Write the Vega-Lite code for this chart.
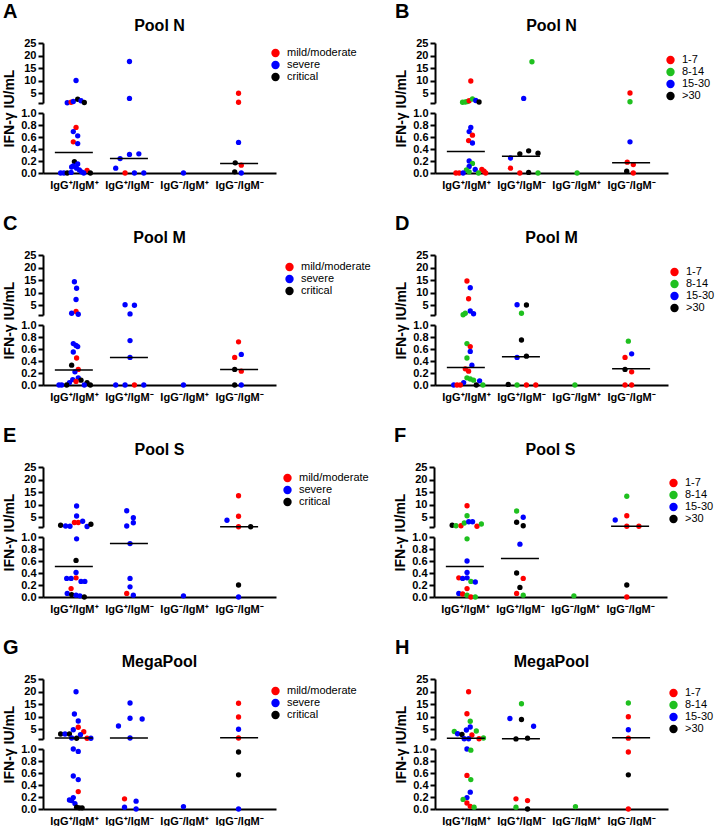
{
"$schema": "https://vega.github.io/schema/vega-lite/v6.json",
"padding": {"left": 2, "top": 2, "right": 0, "bottom": 0},
"background": "white",
"config": {
  "view": {"stroke": null},
  "font": "Liberation Sans",
  "axis": {"domainColor": "black", "domainWidth": 2, "tickColor": "black", "tickWidth": 2, "tickSize": 5, "labelFont": "Liberation Sans", "labelFontWeight": "bold", "labelFontSize": 11, "labelColor": "black", "grid": false, "titleFont": "Liberation Sans", "titleColor": "black", "labelPadding": 2, "labelOverlap": false, "labelBound": false},
  "legend": {"labelFont": "Liberation Sans", "labelFontSize": 11, "labelColor": "black", "symbolSize": 70, "symbolType": "circle", "rowPadding": 0, "symbolStrokeWidth": 0, "labelOffset": 6},
  "title": {"font": "Liberation Sans", "fontWeight": "bold", "color": "black"}
},
"datasets": {
"pts": [
{"p":"A","x":1.04,"v":10.0,"c":"severe"},{"p":"A","x":0.88,"v":1.1,"c":"severe"},{"p":"A","x":0.95,"v":1.3,"c":"mild/moderate"},{"p":"A","x":0.99,"v":1.6,"c":"severe"},{"p":"A","x":1.07,"v":2.5,"c":"critical"},{"p":"A","x":1.13,"v":1.9,"c":"severe"},{"p":"A","x":1.19,"v":1.2,"c":"critical"},{"p":"A","x":2.01,"v":17.6,"c":"severe"},{"p":"A","x":2.01,"v":2.85,"c":"severe"},{"p":"A","x":3.99,"v":4.9,"c":"mild/moderate"},{"p":"A","x":3.99,"v":1.3,"c":"mild/moderate"},
{"p":"A","x":1.04,"v":0.76,"c":"mild/moderate"},{"p":"A","x":0.99,"v":0.69,"c":"severe"},{"p":"A","x":1.07,"v":0.62,"c":"severe"},{"p":"A","x":0.99,"v":0.52,"c":"mild/moderate"},{"p":"A","x":1.07,"v":0.49,"c":"severe"},{"p":"A","x":1.01,"v":0.19,"c":"critical"},{"p":"A","x":1.07,"v":0.15,"c":"severe"},{"p":"A","x":0.99,"v":0.12,"c":"severe"},{"p":"A","x":0.96,"v":0.10,"c":"severe"},{"p":"A","x":1.05,"v":0.08,"c":"severe"},{"p":"A","x":1.10,"v":0.05,"c":"severe"},{"p":"A","x":1.24,"v":0.045,"c":"mild/moderate"},{"p":"A","x":1.14,"v":0.02,"c":"severe"},{"p":"A","x":0.76,"v":0,"c":"severe"},{"p":"A","x":0.82,"v":0,"c":"severe"},{"p":"A","x":0.88,"v":0,"c":"critical"},{"p":"A","x":0.95,"v":0.01,"c":"severe"},{"p":"A","x":1.18,"v":0,"c":"severe"},{"p":"A","x":1.30,"v":0,"c":"critical"},
{"p":"A","x":1.76,"v":0.08,"c":"severe"},{"p":"A","x":1.93,"v":0,"c":"mild/moderate"},{"p":"A","x":1.84,"v":0.24,"c":"severe"},{"p":"A","x":2.01,"v":0.31,"c":"severe"},{"p":"A","x":2.18,"v":0.32,"c":"severe"},{"p":"A","x":2.10,"v":0,"c":"severe"},{"p":"A","x":2.27,"v":0,"c":"severe"},{"p":"A","x":2.99,"v":0,"c":"severe"},{"p":"A","x":3.99,"v":0.51,"c":"severe"},{"p":"A","x":3.93,"v":0.17,"c":"critical"},{"p":"A","x":4.04,"v":0.13,"c":"mild/moderate"},{"p":"A","x":3.92,"v":0.02,"c":"critical"},{"p":"A","x":4.04,"v":0,"c":"severe"},

{"p":"B","x":1.09,"v":9.8,"c":"1-7"},{"p":"B","x":0.94,"v":1.3,"c":"8-14"},{"p":"B","x":0.99,"v":1.4,"c":"8-14"},{"p":"B","x":1.03,"v":1.6,"c":"8-14"},{"p":"B","x":1.06,"v":1.9,"c":"1-7"},{"p":"B","x":1.12,"v":2.6,"c":"8-14"},{"p":"B","x":1.18,"v":2.0,"c":"15-30"},{"p":"B","x":1.24,"v":1.4,"c":">30"},{"p":"B","x":2.20,"v":17.5,"c":"8-14"},{"p":"B","x":2.05,"v":2.85,"c":"15-30"},{"p":"B","x":3.98,"v":5.0,"c":"1-7"},{"p":"B","x":3.98,"v":1.5,"c":"8-14"},
{"p":"B","x":1.09,"v":0.76,"c":"15-30"},{"p":"B","x":1.06,"v":0.69,"c":"15-30"},{"p":"B","x":1.12,"v":0.63,"c":"1-7"},{"p":"B","x":1.05,"v":0.54,"c":"1-7"},{"p":"B","x":1.12,"v":0.50,"c":"15-30"},{"p":"B","x":1.06,"v":0.20,"c":"15-30"},{"p":"B","x":1.12,"v":0.16,"c":"8-14"},{"p":"B","x":1.06,"v":0.11,"c":"15-30"},{"p":"B","x":1.17,"v":0.06,"c":"15-30"},{"p":"B","x":1.01,"v":0.05,"c":"8-14"},{"p":"B","x":1.29,"v":0.06,"c":"1-7"},{"p":"B","x":1.33,"v":0.03,"c":"1-7"},{"p":"B","x":0.82,"v":0,"c":"1-7"},{"p":"B","x":0.88,"v":0,"c":"1-7"},{"p":"B","x":0.95,"v":0,"c":"15-30"},{"p":"B","x":1.06,"v":0.02,"c":"8-14"},{"p":"B","x":1.23,"v":0,"c":"8-14"},{"p":"B","x":1.36,"v":0,"c":"1-7"},
{"p":"B","x":1.81,"v":0.25,"c":"15-30"},{"p":"B","x":1.81,"v":0.08,"c":"1-7"},{"p":"B","x":1.98,"v":0.32,"c":">30"},{"p":"B","x":2.14,"v":0.37,"c":">30"},{"p":"B","x":2.31,"v":0.33,"c":">30"},{"p":"B","x":1.98,"v":0,"c":"1-7"},{"p":"B","x":2.14,"v":0.01,"c":">30"},{"p":"B","x":2.31,"v":0,"c":"8-14"},{"p":"B","x":3.02,"v":0,"c":"8-14"},{"p":"B","x":3.98,"v":0.52,"c":"15-30"},{"p":"B","x":3.93,"v":0.18,"c":"1-7"},{"p":"B","x":4.04,"v":0.14,"c":"1-7"},{"p":"B","x":3.92,"v":0.03,"c":">30"},{"p":"B","x":4.04,"v":0,"c":"1-7"},

{"p":"C","x":1.01,"v":14.3,"c":"severe"},{"p":"C","x":1.05,"v":11.7,"c":"severe"},{"p":"C","x":1.04,"v":7.2,"c":"severe"},{"p":"C","x":1.04,"v":2.4,"c":"mild/moderate"},{"p":"C","x":0.96,"v":1.7,"c":"severe"},{"p":"C","x":1.08,"v":1.3,"c":"severe"},{"p":"C","x":1.93,"v":5.1,"c":"severe"},{"p":"C","x":2.10,"v":4.9,"c":"severe"},{"p":"C","x":2.02,"v":1.45,"c":"severe"},
{"p":"C","x":0.99,"v":0.69,"c":"severe"},{"p":"C","x":1.04,"v":0.66,"c":"severe"},{"p":"C","x":1.07,"v":0.64,"c":"severe"},{"p":"C","x":0.99,"v":0.55,"c":"severe"},{"p":"C","x":1.05,"v":0.45,"c":"mild/moderate"},{"p":"C","x":0.96,"v":0.33,"c":"critical"},{"p":"C","x":1.08,"v":0.26,"c":"mild/moderate"},{"p":"C","x":1.02,"v":0.22,"c":"severe"},{"p":"C","x":1.08,"v":0.12,"c":"severe"},{"p":"C","x":0.98,"v":0.09,"c":"severe"},{"p":"C","x":1.13,"v":0.08,"c":"critical"},{"p":"C","x":1.04,"v":0.06,"c":"mild/moderate"},{"p":"C","x":1.24,"v":0.04,"c":"critical"},{"p":"C","x":0.92,"v":0.04,"c":"severe"},{"p":"C","x":0.73,"v":0,"c":"severe"},{"p":"C","x":0.78,"v":0,"c":"severe"},{"p":"C","x":0.87,"v":0,"c":"critical"},{"p":"C","x":1.19,"v":0,"c":"severe"},{"p":"C","x":1.30,"v":0,"c":"critical"},
{"p":"C","x":2.02,"v":0.74,"c":"severe"},{"p":"C","x":2.02,"v":0.46,"c":"severe"},{"p":"C","x":1.76,"v":0,"c":"severe"},{"p":"C","x":1.93,"v":0,"c":"severe"},{"p":"C","x":2.10,"v":0,"c":"mild/moderate"},{"p":"C","x":2.27,"v":0,"c":"severe"},{"p":"C","x":2.99,"v":0,"c":"severe"},{"p":"C","x":3.99,"v":0.72,"c":"mild/moderate"},{"p":"C","x":3.92,"v":0.46,"c":"mild/moderate"},{"p":"C","x":4.04,"v":0.51,"c":"severe"},{"p":"C","x":3.92,"v":0.26,"c":"critical"},{"p":"C","x":4.04,"v":0.23,"c":"mild/moderate"},{"p":"C","x":3.92,"v":0,"c":"critical"},{"p":"C","x":4.04,"v":0,"c":"severe"},

{"p":"D","x":1.02,"v":14.6,"c":"1-7"},{"p":"D","x":1.08,"v":11.9,"c":"15-30"},{"p":"D","x":1.05,"v":7.5,"c":"1-7"},{"p":"D","x":0.95,"v":1.1,"c":"8-14"},{"p":"D","x":0.99,"v":1.7,"c":"8-14"},{"p":"D","x":1.08,"v":2.6,"c":"15-30"},{"p":"D","x":1.14,"v":1.5,"c":"15-30"},{"p":"D","x":1.93,"v":5.1,"c":"15-30"},{"p":"D","x":2.10,"v":5.0,"c":">30"},{"p":"D","x":2.01,"v":1.7,"c":"8-14"},
{"p":"D","x":1.02,"v":0.69,"c":"8-14"},{"p":"D","x":1.08,"v":0.64,"c":"1-7"},{"p":"D","x":1.08,"v":0.56,"c":"15-30"},{"p":"D","x":1.02,"v":0.45,"c":"8-14"},{"p":"D","x":1.11,"v":0.33,"c":"15-30"},{"p":"D","x":0.99,"v":0.27,"c":"1-7"},{"p":"D","x":1.05,"v":0.23,"c":"1-7"},{"p":"D","x":1.02,"v":0.12,"c":"8-14"},{"p":"D","x":1.08,"v":0.10,"c":"8-14"},{"p":"D","x":1.14,"v":0.08,"c":"8-14"},{"p":"D","x":1.25,"v":0.07,"c":"15-30"},{"p":"D","x":0.96,"v":0.04,"c":"15-30"},{"p":"D","x":0.78,"v":0,"c":"15-30"},{"p":"D","x":0.84,"v":0,"c":"1-7"},{"p":"D","x":0.90,"v":0,"c":"1-7"},{"p":"D","x":1.19,"v":0,"c":">30"},{"p":"D","x":1.31,"v":0,"c":"8-14"},
{"p":"D","x":2.01,"v":0.75,"c":">30"},{"p":"D","x":1.93,"v":0.46,"c":"15-30"},{"p":"D","x":2.10,"v":0.48,"c":">30"},{"p":"D","x":1.77,"v":0.01,"c":">30"},{"p":"D","x":1.93,"v":0,"c":"8-14"},{"p":"D","x":2.10,"v":0,"c":"1-7"},{"p":"D","x":2.27,"v":0,"c":"1-7"},{"p":"D","x":2.98,"v":0,"c":"8-14"},{"p":"D","x":3.95,"v":0.73,"c":"8-14"},{"p":"D","x":3.89,"v":0.46,"c":"1-7"},{"p":"D","x":4.01,"v":0.52,"c":"15-30"},{"p":"D","x":3.89,"v":0.26,"c":">30"},{"p":"D","x":4.01,"v":0.22,"c":"1-7"},{"p":"D","x":3.89,"v":0,"c":"1-7"},{"p":"D","x":4.01,"v":0,"c":"1-7"},

{"p":"E","x":1.05,"v":9.4,"c":"severe"},{"p":"E","x":1.05,"v":5.4,"c":"severe"},{"p":"E","x":1.01,"v":2.8,"c":"mild/moderate"},{"p":"E","x":1.08,"v":2.8,"c":"mild/moderate"},{"p":"E","x":1.16,"v":3.3,"c":"severe"},{"p":"E","x":0.76,"v":1.7,"c":"critical"},{"p":"E","x":0.85,"v":1.4,"c":"severe"},{"p":"E","x":0.93,"v":1.3,"c":"severe"},{"p":"E","x":1.24,"v":1.2,"c":"severe"},{"p":"E","x":1.31,"v":2.1,"c":"critical"},{"p":"E","x":1.96,"v":7.5,"c":"severe"},{"p":"E","x":2.08,"v":4.7,"c":"severe"},{"p":"E","x":2.08,"v":2.7,"c":"severe"},{"p":"E","x":1.96,"v":1.4,"c":"severe"},{"p":"E","x":3.99,"v":13.5,"c":"mild/moderate"},{"p":"E","x":3.99,"v":5.3,"c":"mild/moderate"},{"p":"E","x":3.78,"v":3.7,"c":"severe"},{"p":"E","x":3.99,"v":1.1,"c":"mild/moderate"},{"p":"E","x":4.21,"v":1.1,"c":"critical"},
{"p":"E","x":1.05,"v":0.97,"c":"severe"},{"p":"E","x":1.04,"v":0.61,"c":"critical"},{"p":"E","x":1.04,"v":0.41,"c":"severe"},{"p":"E","x":0.87,"v":0.31,"c":"severe"},{"p":"E","x":1.04,"v":0.32,"c":"mild/moderate"},{"p":"E","x":0.95,"v":0.31,"c":"severe"},{"p":"E","x":1.13,"v":0.26,"c":"severe"},{"p":"E","x":1.20,"v":0.26,"c":"severe"},{"p":"E","x":0.95,"v":0.14,"c":"mild/moderate"},{"p":"E","x":0.88,"v":0.06,"c":"severe"},{"p":"E","x":0.96,"v":0.04,"c":"critical"},{"p":"E","x":1.04,"v":0.03,"c":"severe"},{"p":"E","x":1.11,"v":0.02,"c":"severe"},{"p":"E","x":1.19,"v":0,"c":"critical"},
{"p":"E","x":2.02,"v":0.89,"c":"severe"},{"p":"E","x":2.02,"v":0.31,"c":"severe"},{"p":"E","x":2.02,"v":0.17,"c":"severe"},{"p":"E","x":1.96,"v":0.06,"c":"mild/moderate"},{"p":"E","x":2.08,"v":0.03,"c":"severe"},{"p":"E","x":2.99,"v":0.02,"c":"severe"},{"p":"E","x":3.99,"v":0.2,"c":"critical"},{"p":"E","x":3.99,"v":0,"c":"severe"},

{"p":"F","x":1.04,"v":9.5,"c":"1-7"},{"p":"F","x":1.04,"v":5.5,"c":"8-14"},{"p":"F","x":0.77,"v":1.7,"c":">30"},{"p":"F","x":0.84,"v":1.5,"c":"8-14"},{"p":"F","x":0.93,"v":1.5,"c":"1-7"},{"p":"F","x":0.99,"v":2.6,"c":"8-14"},{"p":"F","x":1.07,"v":3.1,"c":"15-30"},{"p":"F","x":1.14,"v":3.1,"c":"15-30"},{"p":"F","x":1.22,"v":1.3,"c":"1-7"},{"p":"F","x":1.30,"v":2.2,"c":"8-14"},{"p":"F","x":1.94,"v":7.4,"c":"8-14"},{"p":"F","x":2.06,"v":4.9,"c":"15-30"},{"p":"F","x":1.94,"v":2.9,"c":">30"},{"p":"F","x":2.06,"v":1.5,"c":">30"},{"p":"F","x":3.94,"v":13.3,"c":"8-14"},{"p":"F","x":3.94,"v":5.5,"c":"1-7"},{"p":"F","x":3.73,"v":3.8,"c":"15-30"},{"p":"F","x":3.94,"v":1.3,"c":"1-7"},{"p":"F","x":4.16,"v":1.3,"c":"1-7"},
{"p":"F","x":1.04,"v":0.97,"c":"8-14"},{"p":"F","x":1.04,"v":0.6,"c":"15-30"},{"p":"F","x":1.04,"v":0.41,"c":"15-30"},{"p":"F","x":0.89,"v":0.32,"c":"1-7"},{"p":"F","x":0.96,"v":0.31,"c":"15-30"},{"p":"F","x":1.04,"v":0.32,"c":"15-30"},{"p":"F","x":1.11,"v":0.26,"c":"8-14"},{"p":"F","x":1.19,"v":0.25,"c":"15-30"},{"p":"F","x":1.04,"v":0.14,"c":"1-7"},{"p":"F","x":0.89,"v":0.06,"c":"15-30"},{"p":"F","x":0.96,"v":0.05,"c":"1-7"},{"p":"F","x":1.04,"v":0.03,"c":"8-14"},{"p":"F","x":1.11,"v":0,"c":"1-7"},{"p":"F","x":1.19,"v":0,"c":"8-14"},
{"p":"F","x":2.00,"v":0.88,"c":"15-30"},{"p":"F","x":1.94,"v":0.40,"c":">30"},{"p":"F","x":2.06,"v":0.31,"c":"1-7"},{"p":"F","x":2.00,"v":0.16,"c":">30"},{"p":"F","x":1.94,"v":0.06,"c":"1-7"},{"p":"F","x":2.06,"v":0.03,"c":"8-14"},{"p":"F","x":2.98,"v":0.02,"c":"8-14"},{"p":"F","x":3.94,"v":0.2,"c":">30"},{"p":"F","x":3.94,"v":0,"c":"1-7"},

{"p":"G","x":1.04,"v":19.9,"c":"severe"},{"p":"G","x":1.01,"v":11.0,"c":"severe"},{"p":"G","x":1.08,"v":8.2,"c":"severe"},{"p":"G","x":1.08,"v":5.7,"c":"mild/moderate"},{"p":"G","x":1.18,"v":3.9,"c":"mild/moderate"},{"p":"G","x":0.99,"v":4.7,"c":"severe"},{"p":"G","x":1.12,"v":2.7,"c":"severe"},{"p":"G","x":0.76,"v":3.0,"c":"critical"},{"p":"G","x":0.84,"v":3.0,"c":"severe"},{"p":"G","x":0.92,"v":3.0,"c":"critical"},{"p":"G","x":0.96,"v":1.4,"c":"severe"},{"p":"G","x":1.05,"v":1.3,"c":"critical"},{"p":"G","x":1.24,"v":1.3,"c":"mild/moderate"},{"p":"G","x":1.31,"v":1.3,"c":"severe"},{"p":"G","x":1.81,"v":6.2,"c":"severe"},{"p":"G","x":2.02,"v":9.3,"c":"severe"},{"p":"G","x":2.24,"v":9.0,"c":"severe"},{"p":"G","x":2.02,"v":15.4,"c":"severe"},{"p":"G","x":2.02,"v":1.4,"c":"severe"},{"p":"G","x":3.99,"v":15.3,"c":"mild/moderate"},{"p":"G","x":3.99,"v":9.8,"c":"mild/moderate"},{"p":"G","x":3.99,"v":4.9,"c":"severe"},{"p":"G","x":3.99,"v":1.4,"c":"mild/moderate"},
{"p":"G","x":0.99,"v":1.0,"c":"severe"},{"p":"G","x":1.08,"v":0.96,"c":"severe"},{"p":"G","x":0.99,"v":0.55,"c":"severe"},{"p":"G","x":1.08,"v":0.49,"c":"severe"},{"p":"G","x":1.08,"v":0.29,"c":"mild/moderate"},{"p":"G","x":0.99,"v":0.19,"c":"severe"},{"p":"G","x":0.92,"v":0.15,"c":"severe"},{"p":"G","x":0.96,"v":0.14,"c":"severe"},{"p":"G","x":1.02,"v":0.09,"c":"severe"},{"p":"G","x":1.05,"v":0.03,"c":"critical"},{"p":"G","x":1.10,"v":0.02,"c":"critical"},{"p":"G","x":1.15,"v":0.02,"c":"critical"},
{"p":"G","x":1.92,"v":0.17,"c":"mild/moderate"},{"p":"G","x":2.13,"v":0.13,"c":"severe"},{"p":"G","x":1.92,"v":0.03,"c":"severe"},{"p":"G","x":2.13,"v":0,"c":"severe"},{"p":"G","x":2.99,"v":0.04,"c":"severe"},{"p":"G","x":3.99,"v":0.95,"c":"critical"},{"p":"G","x":3.99,"v":0.57,"c":"critical"},{"p":"G","x":3.99,"v":0,"c":"severe"},

{"p":"H","x":1.05,"v":19.9,"c":"1-7"},{"p":"H","x":1.02,"v":11.1,"c":"1-7"},{"p":"H","x":1.08,"v":8.1,"c":"8-14"},{"p":"H","x":1.08,"v":5.8,"c":"15-30"},{"p":"H","x":1.01,"v":4.6,"c":"15-30"},{"p":"H","x":1.19,"v":4.2,"c":"8-14"},{"p":"H","x":0.79,"v":4.0,"c":"8-14"},{"p":"H","x":0.85,"v":3.1,"c":"15-30"},{"p":"H","x":0.93,"v":2.8,"c":">30"},{"p":"H","x":1.11,"v":2.6,"c":"1-7"},{"p":"H","x":1.32,"v":1.4,"c":"8-14"},{"p":"H","x":1.24,"v":1.1,"c":"1-7"},{"p":"H","x":0.97,"v":1.1,"c":"15-30"},{"p":"H","x":1.05,"v":1.1,"c":"15-30"},{"p":"H","x":2.01,"v":15.1,"c":"8-14"},{"p":"H","x":1.80,"v":9.2,"c":"15-30"},{"p":"H","x":2.01,"v":8.8,"c":">30"},{"p":"H","x":2.23,"v":6.1,"c":"15-30"},{"p":"H","x":1.91,"v":1.05,"c":">30"},{"p":"H","x":2.12,"v":1.35,"c":">30"},{"p":"H","x":3.95,"v":15.4,"c":"8-14"},{"p":"H","x":3.95,"v":9.9,"c":"1-7"},{"p":"H","x":3.95,"v":4.7,"c":"15-30"},{"p":"H","x":3.95,"v":1.35,"c":"1-7"},
{"p":"H","x":1.02,"v":1.0,"c":"15-30"},{"p":"H","x":1.09,"v":0.98,"c":"8-14"},{"p":"H","x":1.02,"v":0.56,"c":"1-7"},{"p":"H","x":1.09,"v":0.49,"c":"8-14"},{"p":"H","x":1.08,"v":0.28,"c":"15-30"},{"p":"H","x":1.02,"v":0.19,"c":"15-30"},{"p":"H","x":0.95,"v":0.16,"c":"8-14"},{"p":"H","x":1.02,"v":0.10,"c":"1-7"},{"p":"H","x":1.08,"v":0.045,"c":"1-7"},{"p":"H","x":1.15,"v":0.03,"c":"8-14"},
{"p":"H","x":1.91,"v":0.17,"c":"1-7"},{"p":"H","x":2.12,"v":0.14,"c":"1-7"},{"p":"H","x":1.91,"v":0.03,"c":"8-14"},{"p":"H","x":2.12,"v":0,"c":">30"},{"p":"H","x":2.99,"v":0.04,"c":"8-14"},{"p":"H","x":3.95,"v":0.95,"c":"1-7"},{"p":"H","x":3.95,"v":0.57,"c":">30"},{"p":"H","x":3.95,"v":0,"c":"1-7"}
],
"med": [
{"p":"A","g":1,"m":0.34},{"p":"A","g":2,"m":0.24},{"p":"A","g":4,"m":0.16},
{"p":"B","g":1,"m":0.36},{"p":"B","g":2,"m":0.28},{"p":"B","g":4,"m":0.17},
{"p":"C","g":1,"m":0.25},{"p":"C","g":2,"m":0.46},{"p":"C","g":4,"m":0.26},
{"p":"D","g":1,"m":0.29},{"p":"D","g":2,"m":0.47},{"p":"D","g":4,"m":0.27},
{"p":"E","g":1,"m":0.51},{"p":"E","g":2,"m":0.89},{"p":"E","g":4,"m":1.1},
{"p":"F","g":1,"m":0.51},{"p":"F","g":2,"m":0.64},{"p":"F","g":4,"m":1.3},
{"p":"G","g":1,"m":1.4},{"p":"G","g":2,"m":1.4},{"p":"G","g":4,"m":1.5},
{"p":"H","g":1,"m":1.35},{"p":"H","g":2,"m":1.1},{"p":"H","g":4,"m":1.5}
]
},
"vconcat": [
{"hconcat": [
 {"title": {"text": "A", "anchor": "start", "frame": "group", "fontSize": 20, "dx": -40, "offset": -4}, "spacing": 10, "bounds": "flush", "vconcat": [
  {"width": 233, "height": 60, "title": {"text": "Pool N", "fontSize": 16, "frame": "group", "anchor": "middle", "offset": 3},
   "layer": [
    {"data": {"name": "pts"}, "transform": [{"filter": "datum.p=='A' && datum.v>1"}], "mark": {"type": "circle", "size": 28, "opacity": 1},
     "encoding": {"x": {"field": "x", "type": "quantitative", "scale": {"domain": [0.44, 4.67], "nice": false, "zero": false}, "axis": null},
      "y": {"field": "v", "type": "quantitative", "scale": {"domain": [1, 25], "nice": false, "zero": false}, "axis": {"values": [1,5,10,15,20,25], "tickCount": 12, "labelExpr": "datum.value==1?'':datum.label", "title": null, "labelOverlap": false}},
      "color": {"field": "c", "type": "nominal", "scale": {"domain": ["mild/moderate","severe","critical"], "range": ["#ff0000","#0000ff","#000000"]}, "legend": {"title": null, "orient": "none", "legendX": 227, "legendY": 4.5}}}},
    {"data": {"name": "med"}, "transform": [{"filter": "datum.p=='A' && datum.m>1"}], "mark": {"type": "tick", "orient": "horizontal", "size": 38, "thickness": 1.5, "color": "black", "opacity": 1},
     "encoding": {"x": {"field": "g", "type": "quantitative"}, "y": {"field": "m", "type": "quantitative"}}}
   ]},
  {"width": 233, "height": 60,
   "layer": [
    {"data": {"name": "pts"}, "transform": [{"filter": "datum.p=='A' && datum.v<=1"}], "mark": {"type": "circle", "size": 28, "opacity": 1},
     "encoding": {"x": {"field": "x", "type": "quantitative", "scale": {"domain": [0.44, 4.67], "nice": false, "zero": false}, "axis": {"values": [1,2,3,4], "tickCount": 12, "labelExpr": "['','IgG⁺/IgM⁺','IgG⁺/IgM⁻','IgG⁻/IgM⁺','IgG⁻/IgM⁻'][datum.value]", "title": null, "ticks": false, "labelPadding": 6, "labelFlush": false, "labelOverlap": false}},
      "y": {"field": "v", "type": "quantitative", "scale": {"domain": [0, 1], "nice": false}, "axis": {"values": [0,0.2,0.4,0.6,0.8,1], "tickCount": 12, "format": ".1f", "title": "IFN-γ IU/mL", "titleFontSize": 14, "titleFontWeight": "bold", "titleY": -5, "titlePadding": 4, "labelOverlap": false}},
      "color": {"field": "c", "type": "nominal", "scale": {"domain": ["mild/moderate","severe","critical"], "range": ["#ff0000","#0000ff","#000000"]}, "legend": {"title": null, "orient": "none", "legendX": 227, "legendY": 4.5}}}},
    {"data": {"name": "med"}, "transform": [{"filter": "datum.p=='A' && datum.m<=1"}], "mark": {"type": "tick", "orient": "horizontal", "size": 38, "thickness": 1.5, "color": "black", "opacity": 1},
     "encoding": {"x": {"field": "g", "type": "quantitative"}, "y": {"field": "m", "type": "quantitative"}}}
   ]}
 ]},
 {"title": {"text": "B", "anchor": "start", "frame": "group", "fontSize": 20, "dx": -40, "offset": -4}, "spacing": 10, "bounds": "flush", "vconcat": [
  {"width": 233, "height": 60, "title": {"text": "Pool N", "fontSize": 16, "frame": "group", "anchor": "middle", "offset": 3},
   "layer": [
    {"data": {"name": "pts"}, "transform": [{"filter": "datum.p=='B' && datum.v>1"}], "mark": {"type": "circle", "size": 28, "opacity": 1},
     "encoding": {"x": {"field": "x", "type": "quantitative", "scale": {"domain": [0.44, 4.67], "nice": false, "zero": false}, "axis": null},
      "y": {"field": "v", "type": "quantitative", "scale": {"domain": [1, 25], "nice": false, "zero": false}, "axis": {"values": [1,5,10,15,20,25], "tickCount": 12, "labelExpr": "datum.value==1?'':datum.label", "title": null, "labelOverlap": false}},
      "color": {"field": "c", "type": "nominal", "scale": {"domain": ["1-7","8-14","15-30",">30"], "range": ["#ff0000","#1fc01f","#0000ff","#000000"]}, "legend": {"title": null, "orient": "none", "legendX": 230, "legendY": 11.5}}}},
    {"data": {"name": "med"}, "transform": [{"filter": "datum.p=='B' && datum.m>1"}], "mark": {"type": "tick", "orient": "horizontal", "size": 38, "thickness": 1.5, "color": "black", "opacity": 1},
     "encoding": {"x": {"field": "g", "type": "quantitative"}, "y": {"field": "m", "type": "quantitative"}}}
   ]},
  {"width": 233, "height": 60,
   "layer": [
    {"data": {"name": "pts"}, "transform": [{"filter": "datum.p=='B' && datum.v<=1"}], "mark": {"type": "circle", "size": 28, "opacity": 1},
     "encoding": {"x": {"field": "x", "type": "quantitative", "scale": {"domain": [0.44, 4.67], "nice": false, "zero": false}, "axis": {"values": [1,2,3,4], "tickCount": 12, "labelExpr": "['','IgG⁺/IgM⁺','IgG⁺/IgM⁻','IgG⁻/IgM⁺','IgG⁻/IgM⁻'][datum.value]", "title": null, "ticks": false, "labelPadding": 6, "labelFlush": false, "labelOverlap": false}},
      "y": {"field": "v", "type": "quantitative", "scale": {"domain": [0, 1], "nice": false}, "axis": {"values": [0,0.2,0.4,0.6,0.8,1], "tickCount": 12, "format": ".1f", "title": "IFN-γ IU/mL", "titleFontSize": 14, "titleFontWeight": "bold", "titleY": -5, "titlePadding": 4, "labelOverlap": false}},
      "color": {"field": "c", "type": "nominal", "scale": {"domain": ["1-7","8-14","15-30",">30"], "range": ["#ff0000","#1fc01f","#0000ff","#000000"]}, "legend": {"title": null, "orient": "none", "legendX": 230, "legendY": 11.5}}}},
    {"data": {"name": "med"}, "transform": [{"filter": "datum.p=='B' && datum.m<=1"}], "mark": {"type": "tick", "orient": "horizontal", "size": 38, "thickness": 1.5, "color": "black", "opacity": 1},
     "encoding": {"x": {"field": "g", "type": "quantitative"}, "y": {"field": "m", "type": "quantitative"}}}
   ]}
 ]}
], "spacing": 37, "resolve": {"scale": {"color": "independent"}, "legend": {"color": "independent"}}},
{"hconcat": [
 {"title": {"text": "C", "anchor": "start", "frame": "group", "fontSize": 20, "dx": -40, "offset": -4}, "spacing": 10, "bounds": "flush", "vconcat": [
  {"width": 233, "height": 60, "title": {"text": "Pool M", "fontSize": 16, "frame": "group", "anchor": "middle", "offset": 3},
   "layer": [
    {"data": {"name": "pts"}, "transform": [{"filter": "datum.p=='C' && datum.v>1"}], "mark": {"type": "circle", "size": 28, "opacity": 1},
     "encoding": {"x": {"field": "x", "type": "quantitative", "scale": {"domain": [0.44, 4.67], "nice": false, "zero": false}, "axis": null},
      "y": {"field": "v", "type": "quantitative", "scale": {"domain": [1, 25], "nice": false, "zero": false}, "axis": {"values": [1,5,10,15,20,25], "tickCount": 12, "labelExpr": "datum.value==1?'':datum.label", "title": null, "labelOverlap": false}},
      "color": {"field": "c", "type": "nominal", "scale": {"domain": ["mild/moderate","severe","critical"], "range": ["#ff0000","#0000ff","#000000"]}, "legend": {"title": null, "orient": "none", "legendX": 241, "legendY": 6.5}}}},
    {"data": {"name": "med"}, "transform": [{"filter": "datum.p=='C' && datum.m>1"}], "mark": {"type": "tick", "orient": "horizontal", "size": 38, "thickness": 1.5, "color": "black", "opacity": 1},
     "encoding": {"x": {"field": "g", "type": "quantitative"}, "y": {"field": "m", "type": "quantitative"}}}
   ]},
  {"width": 233, "height": 60,
   "layer": [
    {"data": {"name": "pts"}, "transform": [{"filter": "datum.p=='C' && datum.v<=1"}], "mark": {"type": "circle", "size": 28, "opacity": 1},
     "encoding": {"x": {"field": "x", "type": "quantitative", "scale": {"domain": [0.44, 4.67], "nice": false, "zero": false}, "axis": {"values": [1,2,3,4], "tickCount": 12, "labelExpr": "['','IgG⁺/IgM⁺','IgG⁺/IgM⁻','IgG⁻/IgM⁺','IgG⁻/IgM⁻'][datum.value]", "title": null, "ticks": false, "labelPadding": 6, "labelFlush": false, "labelOverlap": false}},
      "y": {"field": "v", "type": "quantitative", "scale": {"domain": [0, 1], "nice": false}, "axis": {"values": [0,0.2,0.4,0.6,0.8,1], "tickCount": 12, "format": ".1f", "title": "IFN-γ IU/mL", "titleFontSize": 14, "titleFontWeight": "bold", "titleY": -5, "titlePadding": 4, "labelOverlap": false}},
      "color": {"field": "c", "type": "nominal", "scale": {"domain": ["mild/moderate","severe","critical"], "range": ["#ff0000","#0000ff","#000000"]}, "legend": {"title": null, "orient": "none", "legendX": 241, "legendY": 6.5}}}},
    {"data": {"name": "med"}, "transform": [{"filter": "datum.p=='C' && datum.m<=1"}], "mark": {"type": "tick", "orient": "horizontal", "size": 38, "thickness": 1.5, "color": "black", "opacity": 1},
     "encoding": {"x": {"field": "g", "type": "quantitative"}, "y": {"field": "m", "type": "quantitative"}}}
   ]}
 ]},
 {"title": {"text": "D", "anchor": "start", "frame": "group", "fontSize": 20, "dx": -40, "offset": -4}, "spacing": 10, "bounds": "flush", "vconcat": [
  {"width": 233, "height": 60, "title": {"text": "Pool M", "fontSize": 16, "frame": "group", "anchor": "middle", "offset": 3},
   "layer": [
    {"data": {"name": "pts"}, "transform": [{"filter": "datum.p=='D' && datum.v>1"}], "mark": {"type": "circle", "size": 28, "opacity": 1},
     "encoding": {"x": {"field": "x", "type": "quantitative", "scale": {"domain": [0.44, 4.67], "nice": false, "zero": false}, "axis": null},
      "y": {"field": "v", "type": "quantitative", "scale": {"domain": [1, 25], "nice": false, "zero": false}, "axis": {"values": [1,5,10,15,20,25], "tickCount": 12, "labelExpr": "datum.value==1?'':datum.label", "title": null, "labelOverlap": false}},
      "color": {"field": "c", "type": "nominal", "scale": {"domain": ["1-7","8-14","15-30",">30"], "range": ["#ff0000","#1fc01f","#0000ff","#000000"]}, "legend": {"title": null, "orient": "none", "legendX": 234, "legendY": 11.5}}}},
    {"data": {"name": "med"}, "transform": [{"filter": "datum.p=='D' && datum.m>1"}], "mark": {"type": "tick", "orient": "horizontal", "size": 38, "thickness": 1.5, "color": "black", "opacity": 1},
     "encoding": {"x": {"field": "g", "type": "quantitative"}, "y": {"field": "m", "type": "quantitative"}}}
   ]},
  {"width": 233, "height": 60,
   "layer": [
    {"data": {"name": "pts"}, "transform": [{"filter": "datum.p=='D' && datum.v<=1"}], "mark": {"type": "circle", "size": 28, "opacity": 1},
     "encoding": {"x": {"field": "x", "type": "quantitative", "scale": {"domain": [0.44, 4.67], "nice": false, "zero": false}, "axis": {"values": [1,2,3,4], "tickCount": 12, "labelExpr": "['','IgG⁺/IgM⁺','IgG⁺/IgM⁻','IgG⁻/IgM⁺','IgG⁻/IgM⁻'][datum.value]", "title": null, "ticks": false, "labelPadding": 6, "labelFlush": false, "labelOverlap": false}},
      "y": {"field": "v", "type": "quantitative", "scale": {"domain": [0, 1], "nice": false}, "axis": {"values": [0,0.2,0.4,0.6,0.8,1], "tickCount": 12, "format": ".1f", "title": "IFN-γ IU/mL", "titleFontSize": 14, "titleFontWeight": "bold", "titleY": -5, "titlePadding": 4, "labelOverlap": false}},
      "color": {"field": "c", "type": "nominal", "scale": {"domain": ["1-7","8-14","15-30",">30"], "range": ["#ff0000","#1fc01f","#0000ff","#000000"]}, "legend": {"title": null, "orient": "none", "legendX": 234, "legendY": 11.5}}}},
    {"data": {"name": "med"}, "transform": [{"filter": "datum.p=='D' && datum.m<=1"}], "mark": {"type": "tick", "orient": "horizontal", "size": 38, "thickness": 1.5, "color": "black", "opacity": 1},
     "encoding": {"x": {"field": "g", "type": "quantitative"}, "y": {"field": "m", "type": "quantitative"}}}
   ]}
 ]}
], "spacing": 23, "resolve": {"scale": {"color": "independent"}, "legend": {"color": "independent"}}},
{"hconcat": [
 {"title": {"text": "E", "anchor": "start", "frame": "group", "fontSize": 20, "dx": -40, "offset": -4}, "spacing": 10, "bounds": "flush", "vconcat": [
  {"width": 233, "height": 60, "title": {"text": "Pool S", "fontSize": 16, "frame": "group", "anchor": "middle", "offset": 3},
   "layer": [
    {"data": {"name": "pts"}, "transform": [{"filter": "datum.p=='E' && datum.v>1"}], "mark": {"type": "circle", "size": 28, "opacity": 1},
     "encoding": {"x": {"field": "x", "type": "quantitative", "scale": {"domain": [0.44, 4.67], "nice": false, "zero": false}, "axis": null},
      "y": {"field": "v", "type": "quantitative", "scale": {"domain": [1, 25], "nice": false, "zero": false}, "axis": {"values": [1,5,10,15,20,25], "tickCount": 12, "labelExpr": "datum.value==1?'':datum.label", "title": null, "labelOverlap": false}},
      "color": {"field": "c", "type": "nominal", "scale": {"domain": ["mild/moderate","severe","critical"], "range": ["#ff0000","#0000ff","#000000"]}, "legend": {"title": null, "orient": "none", "legendX": 239, "legendY": 5.5}}}},
    {"data": {"name": "med"}, "transform": [{"filter": "datum.p=='E' && datum.m>1"}], "mark": {"type": "tick", "orient": "horizontal", "size": 38, "thickness": 1.5, "color": "black", "opacity": 1},
     "encoding": {"x": {"field": "g", "type": "quantitative"}, "y": {"field": "m", "type": "quantitative"}}}
   ]},
  {"width": 233, "height": 60,
   "layer": [
    {"data": {"name": "pts"}, "transform": [{"filter": "datum.p=='E' && datum.v<=1"}], "mark": {"type": "circle", "size": 28, "opacity": 1},
     "encoding": {"x": {"field": "x", "type": "quantitative", "scale": {"domain": [0.44, 4.67], "nice": false, "zero": false}, "axis": {"values": [1,2,3,4], "tickCount": 12, "labelExpr": "['','IgG⁺/IgM⁺','IgG⁺/IgM⁻','IgG⁻/IgM⁺','IgG⁻/IgM⁻'][datum.value]", "title": null, "ticks": false, "labelPadding": 6, "labelFlush": false, "labelOverlap": false}},
      "y": {"field": "v", "type": "quantitative", "scale": {"domain": [0, 1], "nice": false}, "axis": {"values": [0,0.2,0.4,0.6,0.8,1], "tickCount": 12, "format": ".1f", "title": "IFN-γ IU/mL", "titleFontSize": 14, "titleFontWeight": "bold", "titleY": -5, "titlePadding": 4, "labelOverlap": false}},
      "color": {"field": "c", "type": "nominal", "scale": {"domain": ["mild/moderate","severe","critical"], "range": ["#ff0000","#0000ff","#000000"]}, "legend": {"title": null, "orient": "none", "legendX": 239, "legendY": 5.5}}}},
    {"data": {"name": "med"}, "transform": [{"filter": "datum.p=='E' && datum.m<=1"}], "mark": {"type": "tick", "orient": "horizontal", "size": 38, "thickness": 1.5, "color": "black", "opacity": 1},
     "encoding": {"x": {"field": "g", "type": "quantitative"}, "y": {"field": "m", "type": "quantitative"}}}
   ]}
 ]},
 {"title": {"text": "F", "anchor": "start", "frame": "group", "fontSize": 20, "dx": -40, "offset": -4}, "spacing": 10, "bounds": "flush", "vconcat": [
  {"width": 233, "height": 60, "title": {"text": "Pool S", "fontSize": 16, "frame": "group", "anchor": "middle", "offset": 3},
   "layer": [
    {"data": {"name": "pts"}, "transform": [{"filter": "datum.p=='F' && datum.v>1"}], "mark": {"type": "circle", "size": 28, "opacity": 1},
     "encoding": {"x": {"field": "x", "type": "quantitative", "scale": {"domain": [0.44, 4.67], "nice": false, "zero": false}, "axis": null},
      "y": {"field": "v", "type": "quantitative", "scale": {"domain": [1, 25], "nice": false, "zero": false}, "axis": {"values": [1,5,10,15,20,25], "tickCount": 12, "labelExpr": "datum.value==1?'':datum.label", "title": null, "labelOverlap": false}},
      "color": {"field": "c", "type": "nominal", "scale": {"domain": ["1-7","8-14","15-30",">30"], "range": ["#ff0000","#1fc01f","#0000ff","#000000"]}, "legend": {"title": null, "orient": "none", "legendX": 234, "legendY": 10.5}}}},
    {"data": {"name": "med"}, "transform": [{"filter": "datum.p=='F' && datum.m>1"}], "mark": {"type": "tick", "orient": "horizontal", "size": 38, "thickness": 1.5, "color": "black", "opacity": 1},
     "encoding": {"x": {"field": "g", "type": "quantitative"}, "y": {"field": "m", "type": "quantitative"}}}
   ]},
  {"width": 233, "height": 60,
   "layer": [
    {"data": {"name": "pts"}, "transform": [{"filter": "datum.p=='F' && datum.v<=1"}], "mark": {"type": "circle", "size": 28, "opacity": 1},
     "encoding": {"x": {"field": "x", "type": "quantitative", "scale": {"domain": [0.44, 4.67], "nice": false, "zero": false}, "axis": {"values": [1,2,3,4], "tickCount": 12, "labelExpr": "['','IgG⁺/IgM⁺','IgG⁺/IgM⁻','IgG⁻/IgM⁺','IgG⁻/IgM⁻'][datum.value]", "title": null, "ticks": false, "labelPadding": 6, "labelFlush": false, "labelOverlap": false}},
      "y": {"field": "v", "type": "quantitative", "scale": {"domain": [0, 1], "nice": false}, "axis": {"values": [0,0.2,0.4,0.6,0.8,1], "tickCount": 12, "format": ".1f", "title": "IFN-γ IU/mL", "titleFontSize": 14, "titleFontWeight": "bold", "titleY": -5, "titlePadding": 4, "labelOverlap": false}},
      "color": {"field": "c", "type": "nominal", "scale": {"domain": ["1-7","8-14","15-30",">30"], "range": ["#ff0000","#1fc01f","#0000ff","#000000"]}, "legend": {"title": null, "orient": "none", "legendX": 234, "legendY": 10.5}}}},
    {"data": {"name": "med"}, "transform": [{"filter": "datum.p=='F' && datum.m<=1"}], "mark": {"type": "tick", "orient": "horizontal", "size": 38, "thickness": 1.5, "color": "black", "opacity": 1},
     "encoding": {"x": {"field": "g", "type": "quantitative"}, "y": {"field": "m", "type": "quantitative"}}}
   ]}
 ]}
], "spacing": 24, "resolve": {"scale": {"color": "independent"}, "legend": {"color": "independent"}}},
{"hconcat": [
 {"title": {"text": "G", "anchor": "start", "frame": "group", "fontSize": 20, "dx": -40, "offset": -4}, "spacing": 10, "bounds": "flush", "vconcat": [
  {"width": 233, "height": 60, "title": {"text": "MegaPool", "fontSize": 16, "frame": "group", "anchor": "middle", "offset": 3},
   "layer": [
    {"data": {"name": "pts"}, "transform": [{"filter": "datum.p=='G' && datum.v>1"}], "mark": {"type": "circle", "size": 28, "opacity": 1},
     "encoding": {"x": {"field": "x", "type": "quantitative", "scale": {"domain": [0.44, 4.67], "nice": false, "zero": false}, "axis": null},
      "y": {"field": "v", "type": "quantitative", "scale": {"domain": [1, 25], "nice": false, "zero": false}, "axis": {"values": [1,5,10,15,20,25], "tickCount": 12, "labelExpr": "datum.value==1?'':datum.label", "title": null, "labelOverlap": false}},
      "color": {"field": "c", "type": "nominal", "scale": {"domain": ["mild/moderate","severe","critical"], "range": ["#ff0000","#0000ff","#000000"]}, "legend": {"title": null, "orient": "none", "legendX": 227, "legendY": 6.5}}}},
    {"data": {"name": "med"}, "transform": [{"filter": "datum.p=='G' && datum.m>1"}], "mark": {"type": "tick", "orient": "horizontal", "size": 38, "thickness": 1.5, "color": "black", "opacity": 1},
     "encoding": {"x": {"field": "g", "type": "quantitative"}, "y": {"field": "m", "type": "quantitative"}}}
   ]},
  {"width": 233, "height": 60,
   "layer": [
    {"data": {"name": "pts"}, "transform": [{"filter": "datum.p=='G' && datum.v<=1"}], "mark": {"type": "circle", "size": 28, "opacity": 1},
     "encoding": {"x": {"field": "x", "type": "quantitative", "scale": {"domain": [0.44, 4.67], "nice": false, "zero": false}, "axis": {"values": [1,2,3,4], "tickCount": 12, "labelExpr": "['','IgG⁺/IgM⁺','IgG⁺/IgM⁻','IgG⁻/IgM⁺','IgG⁻/IgM⁻'][datum.value]", "title": null, "ticks": false, "labelPadding": 6, "labelFlush": false, "labelOverlap": false}},
      "y": {"field": "v", "type": "quantitative", "scale": {"domain": [0, 1], "nice": false}, "axis": {"values": [0,0.2,0.4,0.6,0.8,1], "tickCount": 12, "format": ".1f", "title": "IFN-γ IU/mL", "titleFontSize": 14, "titleFontWeight": "bold", "titleY": -5, "titlePadding": 4, "labelOverlap": false}},
      "color": {"field": "c", "type": "nominal", "scale": {"domain": ["mild/moderate","severe","critical"], "range": ["#ff0000","#0000ff","#000000"]}, "legend": {"title": null, "orient": "none", "legendX": 227, "legendY": 6.5}}}},
    {"data": {"name": "med"}, "transform": [{"filter": "datum.p=='G' && datum.m<=1"}], "mark": {"type": "tick", "orient": "horizontal", "size": 38, "thickness": 1.5, "color": "black", "opacity": 1},
     "encoding": {"x": {"field": "g", "type": "quantitative"}, "y": {"field": "m", "type": "quantitative"}}}
   ]}
 ]},
 {"title": {"text": "H", "anchor": "start", "frame": "group", "fontSize": 20, "dx": -40, "offset": -4}, "spacing": 10, "bounds": "flush", "vconcat": [
  {"width": 233, "height": 60, "title": {"text": "MegaPool", "fontSize": 16, "frame": "group", "anchor": "middle", "offset": 3},
   "layer": [
    {"data": {"name": "pts"}, "transform": [{"filter": "datum.p=='H' && datum.v>1"}], "mark": {"type": "circle", "size": 28, "opacity": 1},
     "encoding": {"x": {"field": "x", "type": "quantitative", "scale": {"domain": [0.44, 4.67], "nice": false, "zero": false}, "axis": null},
      "y": {"field": "v", "type": "quantitative", "scale": {"domain": [1, 25], "nice": false, "zero": false}, "axis": {"values": [1,5,10,15,20,25], "tickCount": 12, "labelExpr": "datum.value==1?'':datum.label", "title": null, "labelOverlap": false}},
      "color": {"field": "c", "type": "nominal", "scale": {"domain": ["1-7","8-14","15-30",">30"], "range": ["#ff0000","#1fc01f","#0000ff","#000000"]}, "legend": {"title": null, "orient": "none", "legendX": 233, "legendY": 8.5}}}},
    {"data": {"name": "med"}, "transform": [{"filter": "datum.p=='H' && datum.m>1"}], "mark": {"type": "tick", "orient": "horizontal", "size": 38, "thickness": 1.5, "color": "black", "opacity": 1},
     "encoding": {"x": {"field": "g", "type": "quantitative"}, "y": {"field": "m", "type": "quantitative"}}}
   ]},
  {"width": 233, "height": 60,
   "layer": [
    {"data": {"name": "pts"}, "transform": [{"filter": "datum.p=='H' && datum.v<=1"}], "mark": {"type": "circle", "size": 28, "opacity": 1},
     "encoding": {"x": {"field": "x", "type": "quantitative", "scale": {"domain": [0.44, 4.67], "nice": false, "zero": false}, "axis": {"values": [1,2,3,4], "tickCount": 12, "labelExpr": "['','IgG⁺/IgM⁺','IgG⁺/IgM⁻','IgG⁻/IgM⁺','IgG⁻/IgM⁻'][datum.value]", "title": null, "ticks": false, "labelPadding": 6, "labelFlush": false, "labelOverlap": false}},
      "y": {"field": "v", "type": "quantitative", "scale": {"domain": [0, 1], "nice": false}, "axis": {"values": [0,0.2,0.4,0.6,0.8,1], "tickCount": 12, "format": ".1f", "title": "IFN-γ IU/mL", "titleFontSize": 14, "titleFontWeight": "bold", "titleY": -5, "titlePadding": 4, "labelOverlap": false}},
      "color": {"field": "c", "type": "nominal", "scale": {"domain": ["1-7","8-14","15-30",">30"], "range": ["#ff0000","#1fc01f","#0000ff","#000000"]}, "legend": {"title": null, "orient": "none", "legendX": 233, "legendY": 8.5}}}},
    {"data": {"name": "med"}, "transform": [{"filter": "datum.p=='H' && datum.m<=1"}], "mark": {"type": "tick", "orient": "horizontal", "size": 38, "thickness": 1.5, "color": "black", "opacity": 1},
     "encoding": {"x": {"field": "g", "type": "quantitative"}, "y": {"field": "m", "type": "quantitative"}}}
   ]}
 ]}
], "spacing": 37, "resolve": {"scale": {"color": "independent"}, "legend": {"color": "independent"}}}
], "spacing": 24, "resolve": {"scale": {"color": "independent"}, "legend": {"color": "independent"}}
}
